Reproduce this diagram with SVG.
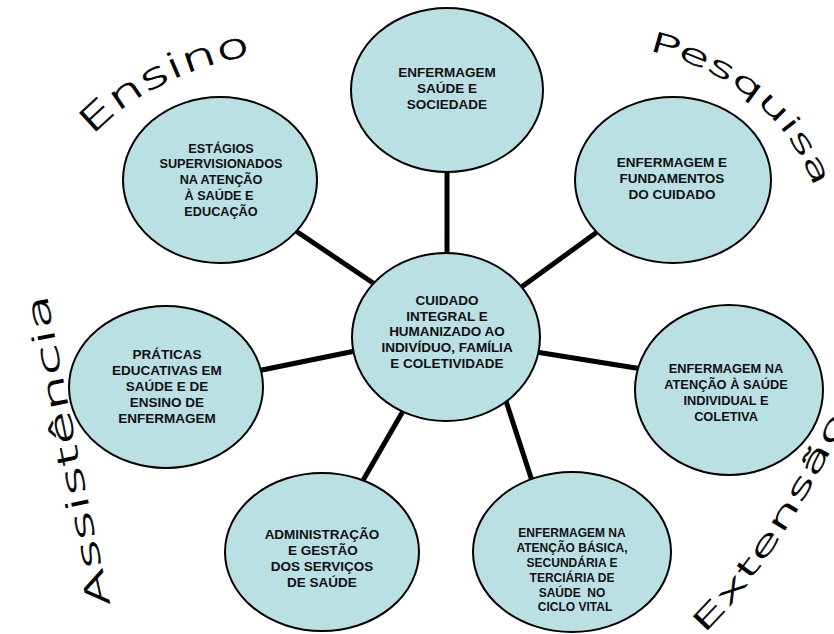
<svg xmlns="http://www.w3.org/2000/svg" width="834" height="634" viewBox="0 0 834 634">
  <style>
    .node ellipse { fill: #BAE0E4; stroke: #000; stroke-width: 2; }
    .node text { font-family: "Liberation Sans", Arial, sans-serif; font-weight: bold; font-size: 13.5px; text-anchor: middle; fill: #111; }
    .link { stroke: #000; stroke-width: 5; fill: none; }
    .arc { font-family: "DejaVu Sans", "Liberation Sans", Arial, sans-serif; font-weight: 200; fill: #000; stroke: #000; stroke-width: 0.7; }
  </style>
  <defs>
    <path id="p-ensino" d="M 92,136 Q 152,72 264,52"/>
    <path id="p-pesquisa" d="M 648,50 Q 782,82 820,202"/>
    <path id="p-assist" d="M 110,605 Q 74,440 46,292"/>
    <path id="p-extensao" d="M 703,634 Q 775,565 850,412"/>
  </defs>
  <rect width="834" height="634" fill="#fff"/>

  <!-- curved labels around the wheel -->
  <g id="labels">
    <text class="arc" font-size="34"><textPath href="#p-ensino" textLength="182" lengthAdjust="spacingAndGlyphs">Ensino</textPath></text>
    <text class="arc" font-size="27"><textPath href="#p-pesquisa" textLength="226" lengthAdjust="spacingAndGlyphs">Pesquisa</textPath></text>
    <text class="arc" font-size="30"><textPath href="#p-assist" textLength="318" lengthAdjust="spacingAndGlyphs">Assistência</textPath></text>
    <text class="arc" font-size="27"><textPath href="#p-extensao" textLength="262" lengthAdjust="spacingAndGlyphs">Extensão</textPath></text>
  </g>

  <!-- spokes -->
  <g id="connectors">
    <line class="link" x1="447" y1="165" x2="447" y2="260"/>
    <line class="link" x1="516" y1="291" x2="604" y2="227"/>
    <line class="link" x1="530" y1="351" x2="642" y2="369"/>
    <line class="link" x1="505" y1="398" x2="535" y2="490"/>
    <line class="link" x1="410" y1="399" x2="358" y2="489"/>
    <line class="link" x1="252" y1="372" x2="360" y2="350"/>
    <line class="link" x1="290" y1="227" x2="382" y2="289"/>
  </g>

  <g id="n-sociedade" class="node">
    <ellipse cx="447" cy="90" rx="96" ry="82"/>
    <text x="447" y="77">ENFERMAGEM</text>
    <text x="447" y="93">SAÚDE E</text>
    <text x="447" y="109">SOCIEDADE</text>
  </g>

  <g id="n-fundamentos" class="node">
    <ellipse cx="673" cy="180" rx="98" ry="83"/>
    <text x="672" y="167">ENFERMAGEM E</text>
    <text x="672" y="183">FUNDAMENTOS</text>
    <text x="672" y="199">DO CUIDADO</text>
  </g>

  <g id="n-individual" class="node">
    <ellipse cx="729" cy="390" rx="94" ry="85"/>
    <text x="726" y="373" style="font-size:12.8px">ENFERMAGEM NA</text>
    <text x="726" y="389" style="font-size:12.8px">ATENÇÃO À SAÚDE</text>
    <text x="726" y="405" style="font-size:12.8px">INDIVIDUAL E</text>
    <text x="726" y="421" style="font-size:12.8px">COLETIVA</text>
  </g>

  <g id="n-basica" class="node">
    <ellipse cx="572" cy="552" rx="99" ry="80"/>
    <text x="572" y="537" style="font-size:12px">ENFERMAGEM NA</text>
    <text x="572" y="552" style="font-size:12px">ATENÇÃO BÁSICA,</text>
    <text x="572" y="567" style="font-size:12px">SECUNDÁRIA E</text>
    <text x="572" y="582" style="font-size:12px">TERCIÁRIA DE</text>
    <text x="572" y="597" style="font-size:12px;white-space:pre">SAÚDE  NO</text>
    <text x="575" y="611" style="font-size:12px">CICLO VITAL</text>
  </g>

  <g id="n-gestao" class="node">
    <ellipse cx="322" cy="552" rx="97" ry="79"/>
    <text x="322" y="539">ADMINISTRAÇÃO</text>
    <text x="323" y="555">E GESTÃO</text>
    <text x="322" y="571">DOS SERVIÇOS</text>
    <text x="322" y="587">DE SAÚDE</text>
  </g>

  <g id="n-praticas" class="node">
    <ellipse cx="166" cy="387" rx="97" ry="81"/>
    <text x="167" y="359">PRÁTICAS</text>
    <text x="167" y="375">EDUCATIVAS EM</text>
    <text x="167" y="391">SAÚDE E DE</text>
    <text x="167" y="407">ENSINO DE</text>
    <text x="167" y="423">ENFERMAGEM</text>
  </g>

  <g id="n-estagios" class="node">
    <ellipse cx="220" cy="180" rx="97" ry="83"/>
    <text x="221" y="152.5" style="font-size:12.7px">ESTÁGIOS</text>
    <text x="221" y="168.3" style="font-size:12.7px">SUPERVISIONADOS</text>
    <text x="221" y="184.1" style="font-size:12.7px">NA ATENÇÃO</text>
    <text x="219" y="199.9" style="font-size:12.7px">À SAÚDE E</text>
    <text x="221" y="215.7" style="font-size:12.7px">EDUCAÇÃO</text>
  </g>

  <g id="n-cuidado" class="node">
    <ellipse cx="446" cy="337" rx="94" ry="84"/>
    <text x="447" y="305">CUIDADO</text>
    <text x="447" y="320.7">INTEGRAL E</text>
    <text x="447" y="336.3">HUMANIZADO AO</text>
    <text x="447" y="352">INDIVÍDUO, FAMÍLIA</text>
    <text x="447" y="367.7">E COLETIVIDADE</text>
  </g>
</svg>
